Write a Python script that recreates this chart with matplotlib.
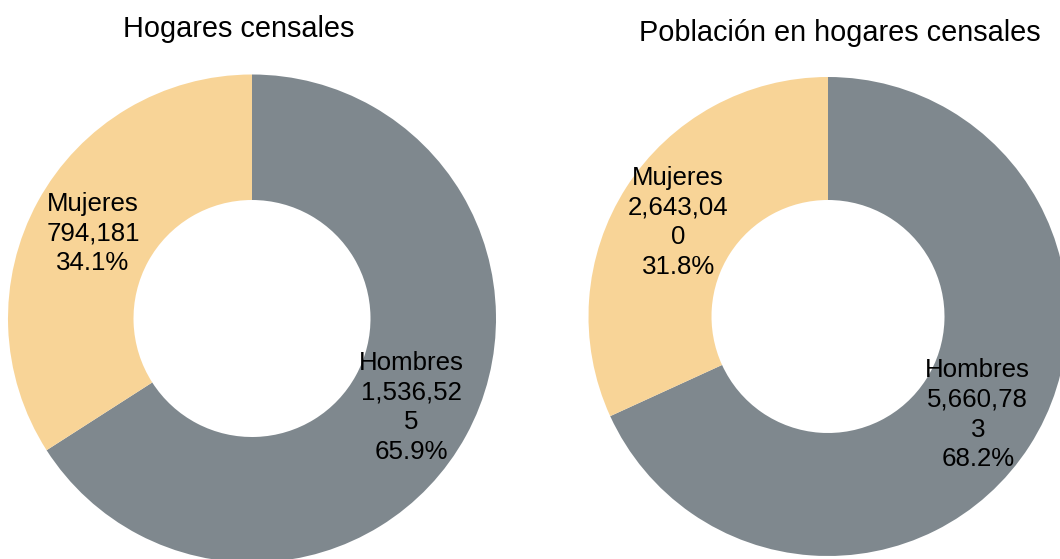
import textwrap
import numpy as np
import matplotlib
matplotlib.use("Agg")
import matplotlib.pyplot as plt

# data
titles = ["Hogares censales", "Población en hogares censales"]
categories = ["Hombres", "Mujeres"]
hogares = [1536525, 794181]
poblacion = [5660783, 2643040]
colors = ["#7f888e", "#f8d497"]

plt.rcParams["font.family"] = ["Liberation Sans", "DejaVu Sans"]

W, H = 1060, 559
fig = plt.figure(figsize=(W / 100, H / 100), dpi=100)
ax = fig.add_axes([0, 0, 1, 1])
ax.set_xlim(0, W); ax.set_ylim(0, H)
ax.set_aspect("equal"); ax.axis("off")

# layout in pixel coords (y measured from top)
panels = [
    dict(vals=hogares, cx=252, cy=318.5, r=244, r_in=118.5, tx=239, ty=37),
    dict(vals=poblacion, cx=828, cy=316.5, r=239.5, r_in=116.5, tx=840, ty=41),
]

for title, p in zip(titles, panels):
    vals = np.array(p["vals"], float)
    center = (p["cx"], H - p["cy"])
    wedges, _ = ax.pie(vals, colors=colors, startangle=90, counterclock=False,
                       radius=p["r"], center=center,
                       wedgeprops=dict(width=p["r"] - p["r_in"], linewidth=0))
    rl = (p["r"] + p["r_in"]) / 2
    for w, cat, v in zip(wedges, categories, vals):
        ang = np.deg2rad((w.theta1 + w.theta2) / 2)
        num = "\n".join(textwrap.wrap(f"{int(v):,}", 8))
        txt = f"{cat}\n{num}\n{v / vals.sum() * 100:.1f}%"
        ax.text(center[0] + rl * np.cos(ang), center[1] + rl * np.sin(ang) - 2, txt,
                ha="center", va="center", fontsize=18.6, linespacing=1.3)
    ax.text(p["tx"], H - p["ty"], title, ha="center", va="baseline", fontsize=20.8)

ax.set_xlim(0, W); ax.set_ylim(0, H)
fig.savefig("out.png", dpi=100)
